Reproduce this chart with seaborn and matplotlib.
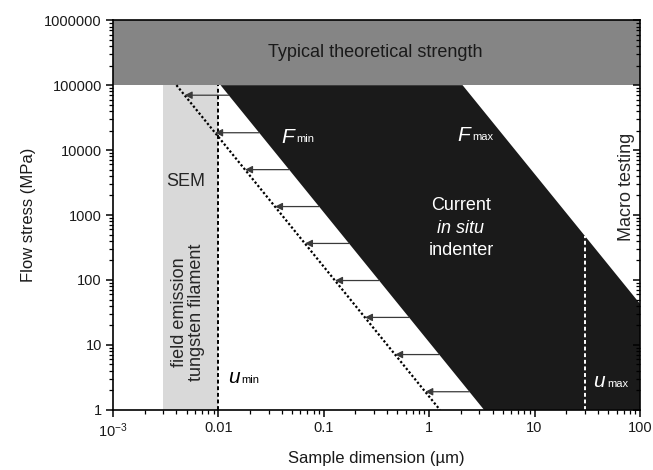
import numpy as np
import pandas as pd
import matplotlib
matplotlib.use("Agg")
import matplotlib.pyplot as plt
from matplotlib.ticker import LogLocator, FixedLocator, FixedFormatter, NullFormatter
import seaborn as sns

# Force limits (µN); stress in MPa = force (µN) / dimension (µm)^2
force_min = 11.0          # lower force limit of the in situ indenter
force_max = 4.3e5         # upper force limit of the in situ indenter
force_reach = 1.6         # extended lower bound (dotted)

# Bounds of the plotted domain
stress_floor = 1.0
theoretical_strength = [1e5, 1e6]
sem_range = [0.003, 0.01]     # field emission tungsten filament SEM
u_min = 0.01
u_max = 30.0

# Stress levels of the shift arrows
arrow_stress = [70000, 18500, 5000, 1350, 365, 98, 26.5, 7.1, 1.9]

x_ticks = [1e-3, 1e-2, 1e-1, 1, 10, 100]
x_tick_labels = [r"$10^{-3}$", "0.01", "0.1", "1", "10", "100"]
y_ticks = [1, 10, 100, 1000, 10000, 100000, 1000000]
y_tick_labels = ["1", "10", "100", "1000", "10000", "100000", "1000000"]

sns.set_theme(style="ticks")
plt.rcParams["font.family"] = ["Liberation Sans", "DejaVu Sans"]
plt.rcParams["mathtext.fontset"] = "custom"
plt.rcParams["mathtext.rm"] = "Liberation Sans"
plt.rcParams["mathtext.it"] = "Liberation Sans:italic"
plt.rcParams["mathtext.bf"] = "Liberation Sans:bold"

fig = plt.figure(figsize=(6.53, 4.70), dpi=100)
ax = fig.add_axes([0.173, 0.128, 0.807, 0.829])
ax.set_xscale("log")
ax.set_yscale("log")
ax.set_xlim(1e-3, 100)
ax.set_ylim(1, 1e6)

top_s = theoretical_strength[0]


def dim_at(force, stress):
    return np.sqrt(force / stress)


def subscripted(x, y, main, sub, color):
    """Italic symbol with a small upright subscript."""
    t = ax.text(x, y, main, fontsize=15, style="italic", color=color,
                ha="left", va="center", zorder=6)
    ax.annotate(sub, xy=(1, 0.12), xycoords=t, xytext=(1.5, 0),
                textcoords="offset points", fontsize=8, color=color,
                ha="left", va="bottom", zorder=6)


# Theoretical strength band
ax.axhspan(theoretical_strength[0], theoretical_strength[1], color="#858585", lw=0, zorder=1)

# SEM resolution band
ax.fill_between(sem_range, [stress_floor] * 2, [top_s] * 2, color="#d9d9d9", lw=0, zorder=1)

# Current in situ indenter window
poly_x = [dim_at(force_min, top_s), dim_at(force_max, top_s), 100, 100,
          dim_at(force_min, stress_floor)]
poly_y = [top_s, top_s, force_max / 100 ** 2, stress_floor, stress_floor]
ax.fill(poly_x, poly_y, color="#1a1a1a", lw=0, zorder=2)

# Extended lower force limit
reach = pd.DataFrame({
    "d": [dim_at(force_reach, top_s), dim_at(force_reach, stress_floor)],
    "s": [top_s, stress_floor],
})
sns.lineplot(data=reach, x="d", y="s", ax=ax, color="black", lw=1.6,
             linestyle=(0, (1, 1)), zorder=4)

# Resolution limits
ax.plot([u_min, u_min], [stress_floor, top_s], color="black", lw=1.4,
        linestyle=(0, (2, 1.4)), zorder=4)
ax.plot([u_max, u_max], [stress_floor, force_max / u_max ** 2], color="white",
        lw=1.4, linestyle=(0, (2, 1.4)), zorder=4)

# Shift arrows
for s in arrow_stress:
    ax.annotate("", xy=(dim_at(force_reach, s), s), xytext=(dim_at(force_min, s), s),
                arrowprops=dict(arrowstyle="-|>", color="#3a3a3a", lw=0.9,
                                mutation_scale=11, shrinkA=0, shrinkB=0),
                zorder=5)

# Annotations
fs = 13
ax.text(0.31, 3.2e5, "Typical theoretical strength", fontsize=fs, ha="center",
        va="center", color="#1a1a1a", zorder=6)
ax.text(0.0049, 3240, "SEM", fontsize=fs, ha="center", va="center", zorder=6)
ax.text(0.0051, 32, "field emission\ntungsten filament", fontsize=fs, rotation=90,
        ha="center", va="center", linespacing=1.0, zorder=6)
subscripted(0.040, 15800, "F", "min", "white")
subscripted(1.84, 17000, "F", "max", "white")
ax.text(2.0, 1425, "Current", fontsize=fs, color="white", ha="center", va="center", zorder=6)
ax.text(2.0, 631, "in situ", fontsize=fs, color="white", ha="center", va="center",
        style="italic", zorder=6)
ax.text(2.0, 288, "indenter", fontsize=fs, color="white", ha="center", va="center", zorder=6)
subscripted(0.0123, 3.1, "u", "min", "black")
subscripted(36, 2.7, "u", "max", "white")
ax.text(75, 2700, "Macro testing", fontsize=fs, rotation=90, ha="center",
        va="center", zorder=6)

# Axes styling
ax.xaxis.set_major_locator(FixedLocator(x_ticks))
ax.xaxis.set_major_formatter(FixedFormatter(x_tick_labels))
ax.yaxis.set_major_locator(FixedLocator(y_ticks))
ax.yaxis.set_major_formatter(FixedFormatter(y_tick_labels))
minor = LogLocator(base=10, subs=np.arange(2, 10), numticks=20)
ax.xaxis.set_minor_locator(minor)
ax.yaxis.set_minor_locator(LogLocator(base=10, subs=np.arange(2, 10), numticks=20))
ax.xaxis.set_minor_formatter(NullFormatter())
ax.yaxis.set_minor_formatter(NullFormatter())
ax.tick_params(axis="both", which="major", direction="out", length=5, width=1.1,
               labelsize=10.5, color="black", labelcolor="#1a1a1a", pad=3)
ax.tick_params(axis="both", which="minor", direction="out", length=2.8, width=0.9,
               color="black")
for side in ["top", "right", "left", "bottom"]:
    ax.spines[side].set_visible(True)
    ax.spines[side].set_color("black")
    ax.spines[side].set_linewidth(1.2)
    ax.spines[side].set_zorder(7)

# Mirrored inward ticks on the right edge
ax_r = ax.twinx()
ax_r.set_yscale("log")
ax_r.set_ylim(ax.get_ylim())
ax_r.yaxis.set_major_locator(FixedLocator(y_ticks))
ax_r.yaxis.set_minor_locator(LogLocator(base=10, subs=np.arange(2, 10), numticks=20))
ax_r.yaxis.set_major_formatter(NullFormatter())
ax_r.yaxis.set_minor_formatter(NullFormatter())
ax_r.tick_params(axis="y", which="major", direction="in", length=5, width=1.1, color="black")
ax_r.tick_params(axis="y", which="minor", direction="in", length=2.8, width=0.9, color="black")
for side in ["top", "right", "left", "bottom"]:
    ax_r.spines[side].set_visible(False)

ax.set_xlabel("Sample dimension (µm)", fontsize=12, color="#1a1a1a", labelpad=8)
ax.set_ylabel("Flow stress (MPa)", fontsize=12, color="#1a1a1a", labelpad=6)

fig.savefig("out.png", dpi=100)
